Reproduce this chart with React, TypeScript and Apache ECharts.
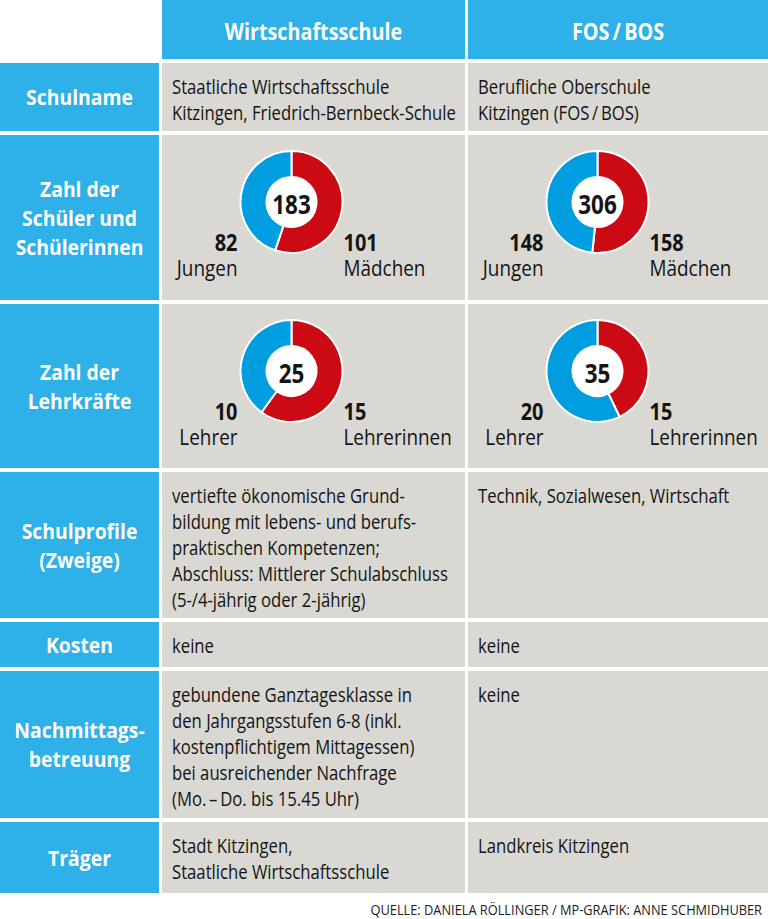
import React, { useEffect, useRef } from "react";
import * as echarts from "echarts";

// ---------- data ----------
const columnHeaders = ["Wirtschaftsschule", "FOS\u2009/\u2009BOS"];
const rowLabels = [
  ["Schulname"],
  ["Zahl der", "Schüler und", "Schülerinnen"],
  ["Zahl der", "Lehrkräfte"],
  ["Schulprofile", "(Zweige)"],
  ["Kosten"],
  ["Nachmittags-", "betreuung"],
  ["Träger"],
];
const schoolNames = [
  ["Staatliche Wirtschaftsschule", "Kitzingen, Friedrich-Bernbeck-Schule"],
  ["Berufliche Oberschule", "Kitzingen (FOS\u2009/\u2009BOS)"],
];
const studentsBoys = [82, 148];
const studentsGirls = [101, 158];
const studentLabels = ["Jungen", "Mädchen"];
const teachersMale = [10, 20];
const teachersFemale = [15, 15];
const teacherLabels = ["Lehrer", "Lehrerinnen"];
const profiles = [
  [
    "vertiefte ökonomische Grund-",
    "bildung mit lebens- und berufs-",
    "praktischen Kompetenzen;",
    "Abschluss: Mittlerer Schulabschluss",
    "(5-/4-jährig oder 2-jährig)",
  ],
  ["Technik, Sozialwesen, Wirtschaft"],
];
const costs = [["keine"], ["keine"]];
const afternoonCare = [
  [
    "gebundene Ganztagesklasse in",
    "den Jahrgangsstufen 6-8 (inkl.",
    "kostenpflichtigem Mittagessen)",
    "bei ausreichender Nachfrage",
    "(Mo.\u2009–\u2009Do. bis 15.45 Uhr)",
  ],
  ["keine"],
];
const carriers = [
  ["Stadt Kitzingen,", "Staatliche Wirtschaftsschule"],
  ["Landkreis Kitzingen"],
];
const sourceNote = "QUELLE: DANIELA RÖLLINGER / MP-GRAFIK: ANNE SCHMIDHUBER";

// ---------- layout & style ----------
const W = 768;
const H = 919;
const LEFT_COL = [0, 159];
const COLS = [
  [162, 465],
  [468, 768],
];
const HEADER = [0, 59];
const ROWS = [
  [63, 131],
  [135, 300],
  [304, 468],
  [472, 618],
  [622, 667],
  [671, 818],
  [822, 893],
];
const CYAN = "#2eb0e8";
const GRAY = "#d9d8d3";
const BLUE = "#009ee0";
const RED = "#cc0a14";
const INK = "#141414";
const FONT = "'Open Sans', 'Noto Sans', sans-serif";
const SX = 0.835;

function txt(
  x: number,
  y: number,
  text: string,
  size: number,
  weight: string,
  fill: string,
  align: string,
  sx: number = SX
) {
  return {
    type: "text",
    x,
    y,
    scaleX: sx,
    z: 10,
    silent: true,
    style: {
      text,
      x: 0,
      y: 0,
      fill,
      fontSize: size,
      fontWeight: weight,
      fontFamily: FONT,
      align,
      textAlign: align,
      verticalAlign: "middle",
      textVerticalAlign: "middle",
    },
  };
}

function rect(x0: number, y0: number, x1: number, y1: number, fill: string) {
  return {
    type: "rect",
    z: 0,
    silent: true,
    shape: { x: x0, y: y0, width: x1 - x0, height: y1 - y0 },
    style: { fill },
  };
}

function buildOption() {
  const elements: any[] = [];
  const series: any[] = [];

  // header cells
  COLS.forEach((c, i) => {
    elements.push(rect(c[0], HEADER[0], c[1], HEADER[1], CYAN));
    elements.push(txt((c[0] + c[1]) / 2, 31, columnHeaders[i], 23, "bold", "#ffffff", "center", 0.86));
  });

  // body rows
  ROWS.forEach((r, ri) => {
    elements.push(rect(LEFT_COL[0], r[0], LEFT_COL[1], r[1], CYAN));
    COLS.forEach((c) => elements.push(rect(c[0], r[0], c[1], r[1], GRAY)));
    const lines = rowLabels[ri];
    const mid = (r[0] + r[1]) / 2;
    lines.forEach((l, li) => {
      const y = mid + (li - (lines.length - 1) / 2) * 29;
      elements.push(txt((LEFT_COL[0] + LEFT_COL[1]) / 2, y, l, 22, "bold", "#ffffff", "center", 0.88));
    });
  });

  // text cells
  const textRows: [number, string[][]][] = [
    [0, schoolNames],
    [3, profiles],
    [4, costs],
    [5, afternoonCare],
    [6, carriers],
  ];
  textRows.forEach(([ri, cells]) => {
    cells.forEach((lines, ci) => {
      lines.forEach((l, li) => {
        elements.push(txt(COLS[ci][0] + 10, ROWS[ri][0] + 23 + li * 26, l, 20, "normal", INK, "left"));
      });
    });
  });

  // donuts
  const donutRows: [number, number[], number[], string[]][] = [
    [1, studentsBoys, studentsGirls, studentLabels],
    [2, teachersMale, teachersFemale, teacherLabels],
  ];
  donutRows.forEach(([ri, left, right, labels]) => {
    COLS.forEach((c, ci) => {
      const cx = c[0] + 129.5;
      const cy = ROWS[ri][0] + 67;
      const total = left[ci] + right[ci];
      series.push({
        type: "pie",
        silent: true,
        center: [cx, cy],
        radius: [25, 51],
        startAngle: 90,
        clockwise: true,
        label: { show: false },
        labelLine: { show: false },
        emphasis: { disabled: true },
        itemStyle: { borderColor: "#ffffff", borderWidth: 2 },
        data: [
          { name: labels[1], value: right[ci], itemStyle: { color: RED } },
          { name: labels[0], value: left[ci], itemStyle: { color: BLUE } },
        ],
      });
      elements.push({
        type: "circle",
        z: 1,
        silent: true,
        shape: { cx, cy, r: 25 },
        style: { fill: "#ffffff" },
      });
      elements.push(txt(cx, cy + 1, String(total), 27, "bold", INK, "center", 0.83));
      elements.push(txt(cx - 54, cy + 39, String(left[ci]), 24, "bold", INK, "right", 0.83));
      elements.push(txt(cx - 54, cy + 65, labels[0], 22, "normal", INK, "right", 0.86));
      elements.push(txt(cx + 52, cy + 39, String(right[ci]), 24, "bold", INK, "left", 0.83));
      elements.push(txt(cx + 52, cy + 65, labels[1], 22, "normal", INK, "left", 0.86));
    });
  });

  // source line
  elements.push(txt(762, 910, sourceNote, 14, "normal", "#222222", "right", 0.915));

  return {
    animation: false,
    backgroundColor: "#ffffff",
    graphic: { elements },
    series,
  };
}

export default function App() {
  const ref = useRef<HTMLDivElement>(null);
  useEffect(() => {
    const chart = echarts.init(ref.current!, null, { renderer: "svg", width: W, height: H });
    chart.setOption(buildOption() as any);
    return () => chart.dispose();
  }, []);
  return (
    <div
      ref={ref}
      style={{ position: "absolute", left: 0, top: 0, width: W, height: H, background: "#fff" }}
    />
  );
}
